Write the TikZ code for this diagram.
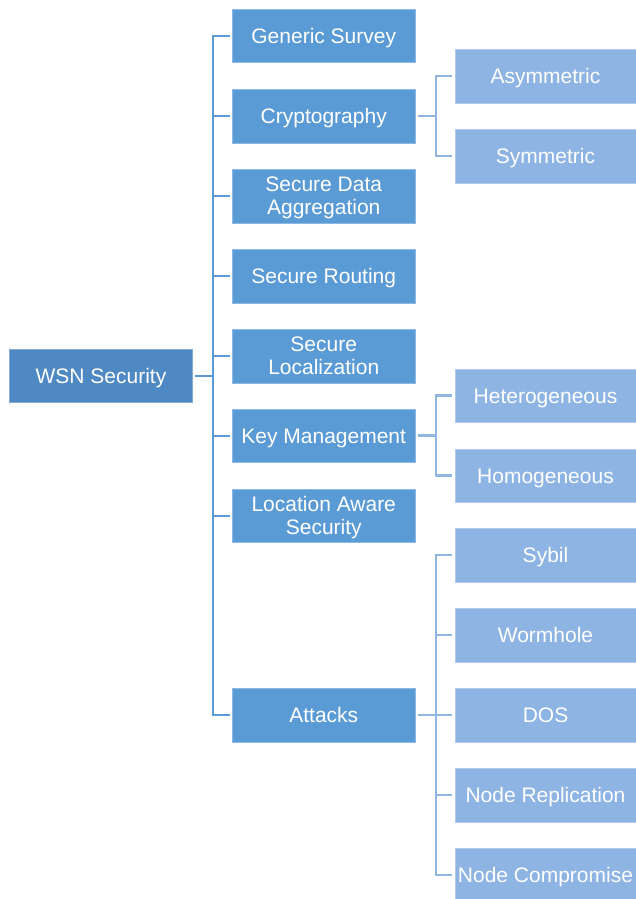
\documentclass[tikz,border=0pt]{standalone}
\usepackage{fontspec}
\setmainfont{Liberation Sans}
\usetikzlibrary{calc}
\definecolor{rootc}{HTML}{4F89C3}
\definecolor{lonec}{HTML}{5B9BD5}
\definecolor{ltwoc}{HTML}{8EB4E3}
\definecolor{lnone}{HTML}{5B9BD5}
\definecolor{lntwo}{HTML}{92B6E2}
\tikzset{
  box/.style={rectangle, inner sep=0pt, align=center, text=white,
    font=\fontsize{21}{22.5}\selectfont, minimum height=53.5pt},
  one/.style={text height=20pt, text depth=4.5pt},
  twotext/.style={inner sep=0pt, align=center, text=white,
    font=\fontsize{21}{22.5}\selectfont, yshift=-2pt},
  rootbox/.style={box, fill=rootc, draw=rootc!70!white, line width=0.5pt, minimum width=183pt},
  onebox/.style={box, fill=lonec, draw=lonec!70!white, line width=0.5pt, minimum width=182.5pt},
  twobox/.style={box, fill=ltwoc, draw=ltwoc!70!white, line width=0.5pt, minimum width=181pt},
  lone/.style={draw=lnone, line width=2pt},
  ltwo/.style={draw=lntwo, line width=2.5pt},
}
\begin{document}
\begin{tikzpicture}[x=1pt,y=-1pt]
\useasboundingbox (0,0) rectangle (636,899);
% root
\node[rootbox,one] (root) at (101,375.5) {WSN Security};
% level 1
\node[onebox,one] (g1) at (323.75,36) {Generic Survey};
\node[onebox,one] (g2) at (323.75,116) {Cryptography};
\node[onebox] (g3) at (323.75,196) {};
\node[twotext] (g3t) at (g3) {Secure Data\\Aggregation};
\node[onebox,one] (g4) at (323.75,276) {Secure Routing};
\node[onebox] (g5) at (323.75,356) {};
\node[twotext] (g5t) at (g5) {Secure\\Localization\vphantom{g}};
\node[onebox,one] (g6) at (323.75,435.5) {Key Management};
\node[onebox] (g7) at (323.75,515.5) {};
\node[twotext] (g7t) at (g7) {Location Aware\\Security};
\node[onebox,one] (g8) at (323.75,715) {Attacks};
% level 2
\node[twobox,one] (c1) at (545.5,76) {Asymmetric};
\node[twobox,one] (c2) at (545.5,156) {Symmetric};
\node[twobox,one] (k1) at (545.5,395.5) {Heterogeneous};
\node[twobox,one] (k2) at (545.5,475.5) {Homogeneous};
\node[twobox,one] (a1) at (545.5,555) {Sybil};
\node[twobox,one] (a2) at (545.5,635) {Wormhole};
\node[twobox,one] (a3) at (545.5,715) {DOS};
\node[twobox,one] (a4) at (545.5,795) {Node Replication};
\node[twobox,one] (a5) at (545.5,875) {Node Compromise};
% spines
\coordinate (sp) at (212.5,0);
\coordinate (sq) at (436,0);
% level 1 connectors
\draw[lone] ([xshift=2.5pt]root.east) -- (root.east -| sp);
\draw[lone] ([xshift=-2.5pt]g1.west) -- (g1.west -| sp) -- (g8.west -| sp) -- ([xshift=-2.5pt]g8.west);
\foreach \n in {g2,g3,g4,g5,g6,g7}
  \draw[lone] (\n.west -| sp) -- ([xshift=-2.5pt]\n.west);
% level 2 connectors
\draw[ltwo] ([xshift=2.5pt]g2.east) -- (g2.east -| sq);
\draw[ltwo] ([xshift=-2.5pt]c1.west) -- (c1.west -| sq) -- (c2.west -| sq) -- ([xshift=-2.5pt]c2.west);
\draw[ltwo] ([xshift=2.5pt]g6.east) -- (g6.east -| sq);
\draw[ltwo] ([xshift=-2.5pt]k1.west) -- (k1.west -| sq) -- (k2.west -| sq) -- ([xshift=-2.5pt]k2.west);
\draw[ltwo] ([xshift=2.5pt]g8.east) -- (g8.east -| sq);
\draw[ltwo] ([xshift=-2.5pt]a1.west) -- (a1.west -| sq) -- (a5.west -| sq) -- ([xshift=-2.5pt]a5.west);
\foreach \n in {a2,a3,a4}
  \draw[ltwo] (\n.west -| sq) -- ([xshift=-2.5pt]\n.west);
\end{tikzpicture}
\end{document}
